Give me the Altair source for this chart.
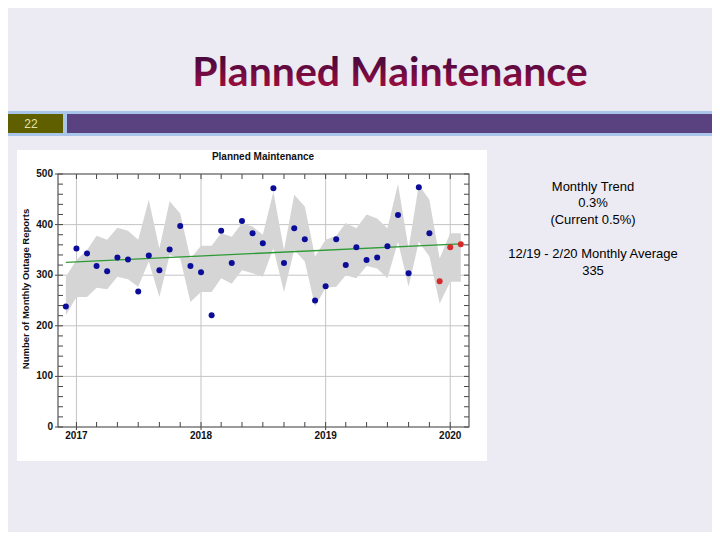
import altair as alt
import pandas as pd

# ---------------- data ----------------
months = [d.strftime("%Y-%m-%d") for d in pd.date_range("2016-12-01", "2020-02-01", freq="MS")]
reports = [238, 353, 343, 318, 308, 335, 331, 268, 339, 310, 351, 397, 318,
           306, 221, 388, 324, 407, 383, 363, 472, 324, 393, 371, 250,
           278, 371, 320, 355, 330, 335, 357, 419, 304, 474, 383, 288,
           355, 361]
band_upper = [297, 330, 350, 378, 370, 394, 388, 370, 449, 353, 446, 422, 333,
              358, 358, 383, 376, 403, 396, 380, 465, 350, 459, 436, 337,
              370, 378, 403, 393, 420, 412, 393, 480, 353, 479, 449, 333,
              383, 383]
band_lower = [221, 257, 257, 275, 272, 297, 292, 277, 327, 257, 340, 333, 247,
              267, 267, 294, 283, 310, 304, 297, 353, 267, 350, 327, 238,
              275, 277, 300, 294, 318, 313, 294, 366, 277, 366, 337, 244,
              287, 287]
periods = ["history"] * 36 + ["recent"] * 3
trend_dates = ["2016-12-01", "2020-02-01"]
trend_values = [325.5, 362]

y_major = [0, 100, 200, 300, 400, 500]
y_minor = list(range(0, 501, 20))
x_year_labels = ["2017", "2018", "2019", "2020"]
x_year_dates = ["2017-01-01", "2018-01-01", "2019-01-01", "2020-01-01"]
x_minor = [d.strftime("%Y-%m-%d") for d in pd.date_range("2017-01-01", "2020-01-01", freq="2MS")]
x_domain = ["2016-11-08", "2020-02-25"]

side_lines = ["Monthly Trend", "0.3%", "(Current 0.5%)", "12/19 - 2/20 Monthly Average", "335"]
side_y = [13, 29, 46, 80, 97]

df = pd.DataFrame({"date": months, "reports": reports, "upper": band_upper,
                   "lower": band_lower, "period": periods})
trend_df = pd.DataFrame({"date": trend_dates, "value": trend_values})
one = pd.DataFrame({"a": [0]})

W, H = 411, 253
FONT = "Liberation Sans"

xscale = alt.Scale(type="utc", domain=x_domain)
yscale = alt.Scale(domain=[0, 500], nice=False)

def X(field):
    return alt.X(field, scale=xscale, axis=None)

def Y(field):
    return alt.Y(field, scale=yscale, axis=None)

# ---------------- slide decoration ----------------
panel = alt.Chart(one).mark_rect(color="white").encode(
    x=alt.value(-41), x2=alt.value(429), y=alt.value(-24), y2=alt.value(287))
blue_band = alt.Chart(one).mark_rect(color="#a9c6ea").encode(
    x=alt.value(-60), x2=alt.value(670), y=alt.value(-63), y2=alt.value(-38))
olive = alt.Chart(one).mark_rect(color="#5f5f00").encode(
    x=alt.value(-60), x2=alt.value(5), y=alt.value(-60), y2=alt.value(-41))
purple = alt.Chart(one).mark_rect(color="#5a4280").encode(
    x=alt.value(9), x2=alt.value(670), y=alt.value(-60), y2=alt.value(-41))
page_num = alt.Chart(one).mark_text(text="22", font=FONT, fontSize=12,
                                    color="#e2e2b0").encode(
    x=alt.value(-27), y=alt.value(-50.5))
main_title = alt.Chart(one).mark_text(
    text="Planned Maintenance", font="Lato", fontWeight="bold", fontSize=41,
    baseline="alphabetic", align="center",
    color=alt.Gradient(gradient="linear", x1=0, y1=0, x2=0, y2=1,
                       stops=[alt.GradientStop(color="#2e0838", offset=0),
                              alt.GradientStop(color="#6a0a42", offset=0.5),
                              alt.GradientStop(color="#b8103a", offset=1)])
).encode(x=alt.value(332), y=alt.value(-88))
chart_title = alt.Chart(one).mark_text(
    text="Planned Maintenance", font=FONT, fontWeight="bold", fontSize=10,
    baseline="alphabetic", color="#111").encode(x=alt.value(205), y=alt.value(-14))

side_df = pd.DataFrame({"t": side_lines, "yy": side_y})
side_text = alt.Chart(side_df).mark_text(font=FONT, fontSize=13, color="#000").encode(
    x=alt.value(535), y=alt.Y("yy:Q", scale=None, axis=None), text="t:N")

# ---------------- grid ----------------
ymaj_df = pd.DataFrame({"v": y_major})
xmaj_df = pd.DataFrame({"d": x_year_dates, "lab": x_year_labels})
grid_y = alt.Chart(ymaj_df).mark_rule(color="#c4c4c4", strokeWidth=1).encode(
    y=Y("v:Q"), x=alt.value(0), x2=alt.value(W))
grid_x = alt.Chart(xmaj_df).mark_rule(color="#c4c4c4", strokeWidth=1).encode(
    x=X("d:T"), y=alt.value(0), y2=alt.value(H))

# ---------------- data layers ----------------
band = alt.Chart(df).mark_area(color="#d5d5d5", opacity=1).encode(
    x=X("date:T"), y=Y("upper:Q"), y2="lower:Q")

trend = alt.Chart(trend_df).mark_line(color="#2e9a35", strokeWidth=1.3).encode(
    x=X("date:T"), y=Y("value:Q"))

points = alt.Chart(df).mark_circle(size=36, opacity=1).encode(
    x=X("date:T"), y=Y("reports:Q"),
    color=alt.Color("period:N", legend=None,
                    scale=alt.Scale(domain=["history", "recent"],
                                    range=["#0c0c9a", "#d42a2a"])))

# ---------------- axes drawn from the tick arrays ----------------
ymin_df = pd.DataFrame({"v": y_minor})
xmin_df = pd.DataFrame({"d": x_minor})
yt_left = alt.Chart(ymin_df).mark_rule(color="#444").encode(
    y=Y("v:Q"), x=alt.value(0), x2=alt.value(5))
yt_right = alt.Chart(ymin_df).mark_rule(color="#444").encode(
    y=Y("v:Q"), x=alt.value(W - 5), x2=alt.value(W))
xt_bottom = alt.Chart(xmin_df).mark_rule(color="#444").encode(
    x=X("d:T"), y=alt.value(H - 5), y2=alt.value(H))
xt_top = alt.Chart(xmin_df).mark_rule(color="#444").encode(
    x=X("d:T"), y=alt.value(0), y2=alt.value(5))
ymaj_out = alt.Chart(ymaj_df).mark_rule(color="#444").encode(
    y=Y("v:Q"), x=alt.value(-3), x2=alt.value(0))
xmaj_out = alt.Chart(xmaj_df).mark_rule(color="#444").encode(
    x=X("d:T"), y=alt.value(H), y2=alt.value(H + 3))

y_labels = alt.Chart(ymaj_df).mark_text(
    font=FONT, fontWeight="bold", fontSize=10, color="#111",
    align="right", baseline="middle").encode(
    y=Y("v:Q"), x=alt.value(-5), text="v:Q")
x_labels = alt.Chart(xmaj_df).mark_text(
    font=FONT, fontWeight="bold", fontSize=10, color="#111",
    align="center", baseline="top").encode(
    x=X("d:T"), y=alt.value(H + 4), text="lab:N")
y_title = alt.Chart(one).mark_text(
    text="Number of Monthly Outage Reports", font=FONT, fontWeight="bold",
    fontSize=9.5, color="#111", angle=270, align="center", baseline="middle").encode(
    x=alt.value(-32), y=alt.value(115))

frame = alt.Chart(one).mark_rect(filled=False, stroke="#555", strokeWidth=1.2).encode(
    x=alt.value(0), x2=alt.value(W), y=alt.value(0), y2=alt.value(H))

chart = alt.layer(
    panel, blue_band, olive, purple, page_num, main_title, chart_title,
    grid_y, grid_x, band, trend, points, yt_left, yt_right, xt_bottom, xt_top,
    ymaj_out, xmaj_out, frame, y_labels, x_labels, y_title, side_text
).properties(
    width=W, height=H, autosize="none",
    padding={"left": 50, "top": 166, "right": 243, "bottom": 105}
).configure(background="#ecebf3").configure_view(stroke=None)

chart.save("out.html", embed_options={"renderer": "svg", "actions": False})
